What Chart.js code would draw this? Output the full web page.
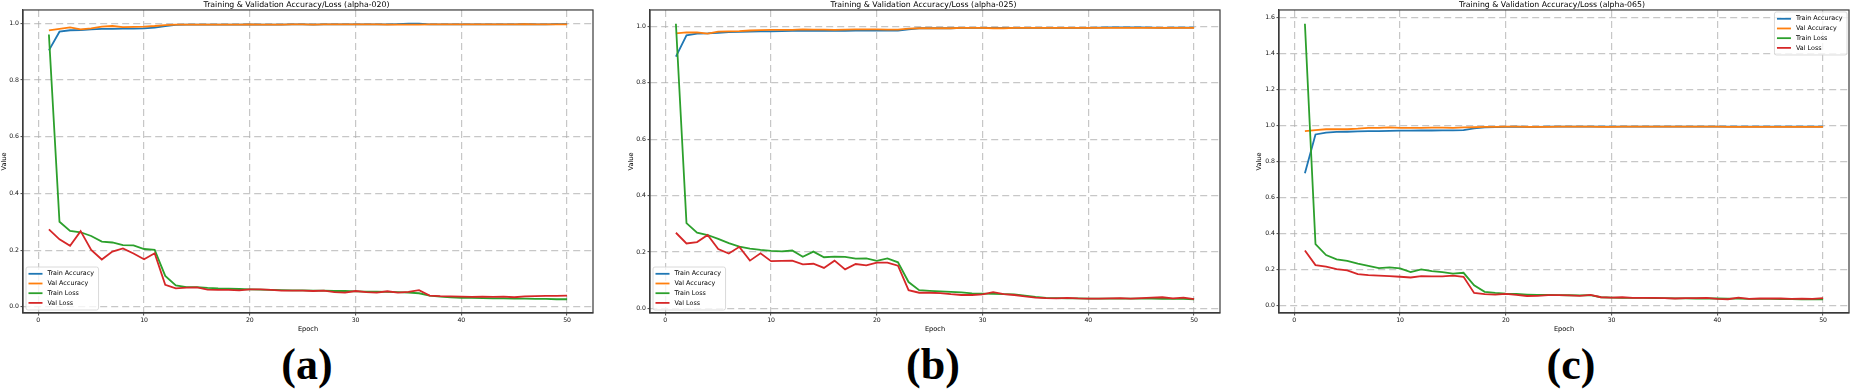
<!DOCTYPE html>
<html><head><meta charset="utf-8">
<script src="https://cdn.jsdelivr.net/npm/chart.js@4.4.1/dist/chart.umd.min.js"></script>
<style>
html,body{margin:0;padding:0;background:#fff;}
#wrap{position:relative;width:1850px;height:389px;background:#fff;overflow:hidden;}
.pc{position:absolute;top:0;}
.lab{position:absolute;top:339px;width:120px;margin-left:-60px;text-align:center;font-family:"Liberation Serif","Times New Roman",serif;font-weight:bold;font-size:44px;line-height:52px;color:#000;}
</style></head>
<body><div id="wrap"></div>
<script>
// ---------- data ----------
const epochs = [1,2,3,4,5,6,7,8,9,10,11,12,13,14,15,16,17,18,19,20,21,22,23,24,25,26,27,28,29,30,31,32,33,34,35,36,37,38,39,40,41,42,43,44,45,46,47,48,49,50];
const seriesNames = ['Train Accuracy','Val Accuracy','Train Loss','Val Loss'];
const panelTitles = ['Training & Validation Accuracy/Loss (alpha-020)','Training & Validation Accuracy/Loss (alpha-025)','Training & Validation Accuracy/Loss (alpha-065)'];
const panelLetters = ['(a)','(b)','(c)'];
const xTickValues = [0,10,20,30,40,50];
const yTickValuesAB = [0.0,0.2,0.4,0.6,0.8,1.0];
const yTickValuesC = [0.0,0.2,0.4,0.6,0.8,1.0,1.2,1.4,1.6];

const trainAccA = [0.904,0.970,0.975,0.976,0.978,0.980,0.980,0.981,0.981,0.982,0.984,0.990,0.994,0.995,0.995,0.995,0.995,0.995,0.995,0.996,0.995,0.995,0.995,0.996,0.996,0.995,0.996,0.996,0.996,0.996,0.996,0.996,0.996,0.997,0.998,0.998,0.996,0.996,0.996,0.996,0.996,0.996,0.996,0.996,0.996,0.997,0.996,0.996,0.997,0.997];
const valAccA   = [0.975,0.980,0.985,0.978,0.982,0.988,0.990,0.986,0.987,0.988,0.990,0.993,0.995,0.995,0.995,0.995,0.995,0.995,0.995,0.996,0.995,0.995,0.995,0.996,0.996,0.995,0.996,0.996,0.996,0.996,0.996,0.996,0.995,0.995,0.995,0.995,0.996,0.996,0.996,0.996,0.996,0.996,0.996,0.996,0.996,0.997,0.996,0.996,0.996,0.996];
const trainLossA= [0.960,0.300,0.268,0.263,0.250,0.230,0.227,0.218,0.217,0.204,0.201,0.109,0.076,0.070,0.070,0.067,0.065,0.064,0.063,0.062,0.061,0.060,0.059,0.058,0.058,0.057,0.057,0.056,0.056,0.055,0.054,0.054,0.053,0.052,0.050,0.048,0.040,0.036,0.034,0.032,0.032,0.031,0.030,0.030,0.029,0.029,0.028,0.028,0.027,0.027];
const valLossA  = [0.273,0.238,0.215,0.267,0.201,0.167,0.195,0.206,0.188,0.168,0.189,0.078,0.065,0.068,0.069,0.061,0.060,0.060,0.058,0.062,0.062,0.060,0.057,0.057,0.057,0.056,0.057,0.052,0.050,0.056,0.052,0.050,0.055,0.050,0.053,0.059,0.040,0.038,0.037,0.036,0.035,0.036,0.035,0.036,0.034,0.037,0.038,0.039,0.039,0.040];

const trainAccB = [0.893,0.969,0.975,0.976,0.978,0.980,0.981,0.982,0.983,0.983,0.984,0.985,0.985,0.985,0.985,0.985,0.985,0.986,0.986,0.986,0.986,0.986,0.990,0.994,0.994,0.994,0.994,0.995,0.995,0.995,0.995,0.995,0.995,0.995,0.995,0.995,0.995,0.995,0.995,0.995,0.996,0.997,0.997,0.997,0.997,0.996,0.995,0.996,0.996,0.996];
const valAccB   = [0.976,0.979,0.979,0.975,0.982,0.983,0.984,0.986,0.987,0.988,0.988,0.988,0.990,0.989,0.989,0.988,0.989,0.990,0.990,0.990,0.989,0.989,0.993,0.994,0.994,0.994,0.994,0.995,0.995,0.995,0.994,0.994,0.995,0.995,0.995,0.995,0.995,0.995,0.995,0.995,0.995,0.995,0.995,0.995,0.995,0.995,0.995,0.995,0.995,0.995];
const trainLossB= [1.010,0.302,0.268,0.260,0.246,0.231,0.219,0.212,0.207,0.204,0.202,0.205,0.183,0.201,0.181,0.183,0.182,0.176,0.177,0.168,0.177,0.163,0.093,0.064,0.062,0.060,0.058,0.056,0.053,0.052,0.051,0.050,0.049,0.045,0.040,0.037,0.036,0.035,0.035,0.034,0.034,0.034,0.034,0.034,0.034,0.034,0.033,0.033,0.033,0.032];
const valLossB  = [0.268,0.230,0.235,0.260,0.210,0.194,0.218,0.169,0.195,0.167,0.168,0.169,0.156,0.158,0.143,0.169,0.138,0.157,0.152,0.162,0.162,0.151,0.064,0.055,0.055,0.054,0.050,0.047,0.047,0.049,0.057,0.050,0.047,0.042,0.038,0.036,0.035,0.037,0.035,0.034,0.034,0.035,0.036,0.034,0.036,0.038,0.039,0.035,0.038,0.032];

const trainAccC = [0.735,0.951,0.961,0.965,0.966,0.968,0.969,0.970,0.971,0.972,0.972,0.973,0.973,0.974,0.974,0.975,0.985,0.990,0.992,0.993,0.994,0.993,0.993,0.994,0.994,0.994,0.994,0.994,0.994,0.994,0.994,0.994,0.994,0.994,0.994,0.994,0.995,0.995,0.995,0.995,0.994,0.994,0.994,0.994,0.994,0.994,0.994,0.994,0.994,0.994];
const valAccC   = [0.970,0.975,0.980,0.980,0.980,0.983,0.988,0.988,0.990,0.988,0.988,0.988,0.989,0.989,0.988,0.990,0.991,0.993,0.993,0.994,0.994,0.993,0.993,0.993,0.994,0.994,0.994,0.994,0.993,0.993,0.994,0.994,0.994,0.994,0.994,0.994,0.994,0.994,0.994,0.994,0.993,0.993,0.993,0.993,0.993,0.993,0.993,0.993,0.993,0.993];
const trainLossC= [1.567,0.340,0.280,0.256,0.247,0.232,0.220,0.207,0.211,0.206,0.185,0.200,0.190,0.185,0.176,0.181,0.112,0.075,0.069,0.065,0.063,0.060,0.058,0.058,0.057,0.056,0.055,0.057,0.045,0.043,0.042,0.042,0.041,0.040,0.040,0.039,0.039,0.038,0.038,0.038,0.037,0.037,0.036,0.036,0.036,0.035,0.035,0.034,0.034,0.034];
const valLossC  = [0.305,0.224,0.215,0.202,0.194,0.174,0.168,0.165,0.163,0.159,0.155,0.163,0.161,0.161,0.165,0.159,0.069,0.062,0.060,0.064,0.058,0.052,0.053,0.057,0.057,0.055,0.053,0.058,0.045,0.043,0.045,0.042,0.042,0.042,0.040,0.038,0.040,0.040,0.042,0.036,0.034,0.043,0.036,0.038,0.038,0.038,0.036,0.037,0.036,0.040];

// ---------- styles / layout ----------
const seriesColors = ['#1f77b4','#ff7f0e','#2ca02c','#d62728'];
const FONT = '"DejaVu Sans", sans-serif';
const PLOT_TOP = 10, PLOT_BOTTOM = 313, CANVAS_H = 333;
const panels = [
  {cl:0,    pl:23,   pr:593,  series:[trainAccA,valAccA,trainLossA,valLossA], yt:yTickValuesAB, corner:'ll', labX:307},
  {cl:627,  pl:650,  pr:1220, series:[trainAccB,valAccB,trainLossB,valLossB], yt:yTickValuesAB, corner:'ll', labX:933},
  {cl:1255, pl:1279, pr:1849, series:[trainAccC,valAccC,trainLossC,valLossC], yt:yTickValuesC,  corner:'ur', labX:1571}
];

const framePlugin = {
  id:'frameLegend',
  afterDatasetsDraw(chart, args, opts){
    const ctx = chart.ctx, a = chart.chartArea;
    ctx.save();
    ctx.setLineDash([]);
    ctx.strokeStyle = '#3a3a3a'; ctx.lineWidth = 1.2;
    ctx.strokeRect(a.left, a.top, a.right-a.left, a.bottom-a.top);
    // legend
    ctx.font = '6.4px ' + FONT;
    const ds = chart.data.datasets;
    const tw = Math.max(...ds.map(d=>ctx.measureText(d.label).width));
    const w = 22 + tw + 4, h = 43;
    let x, y;
    if (opts.corner === 'll') { x = a.left + 3; y = a.bottom - 3 - h; }
    else { x = a.right - 2 - w; y = a.top + 2; }
    ctx.beginPath();
    if (ctx.roundRect) ctx.roundRect(x, y, w, h, 2); else ctx.rect(x, y, w, h);
    ctx.fillStyle = 'rgba(255,255,255,0.8)'; ctx.fill();
    ctx.strokeStyle = '#d0d0d0'; ctx.lineWidth = 0.8; ctx.stroke();
    ds.forEach((d, i) => {
      const ry = y + 6.8 + i*9.7;
      ctx.strokeStyle = d.borderColor; ctx.lineWidth = 1.8;
      ctx.beginPath(); ctx.moveTo(x+2.5, ry); ctx.lineTo(x+16.5, ry); ctx.stroke();
      ctx.fillStyle = '#000'; ctx.textBaseline = 'middle'; ctx.textAlign = 'left';
      ctx.fillText(d.label, x+21.5, ry);
    });
    ctx.restore();
  }
};

const wrap = document.getElementById('wrap');
panels.forEach((p, k) => {
  const cw = p.pr + 1 - p.cl;
  const div = document.createElement('div');
  div.className = 'pc';
  div.style.left = p.cl + 'px';
  div.style.width = cw + 'px'; div.style.height = CANVAS_H + 'px';
  const cv = document.createElement('canvas');
  cv.width = cw; cv.height = CANVAS_H;
  cv.style.width = cw + 'px'; cv.style.height = CANVAS_H + 'px';
  div.appendChild(cv); wrap.appendChild(div);

  const lab = document.createElement('div');
  lab.className = 'lab'; lab.style.left = p.labX + 'px';
  lab.textContent = panelLetters[k];
  wrap.appendChild(lab);

  const all = p.series.flat();
  const mn = Math.min(...all), mx = Math.max(...all), span = mx - mn;
  const xmin = epochs[0] - 0.05*(epochs[epochs.length-1]-epochs[0]);
  const xmax = epochs[epochs.length-1] + 0.05*(epochs[epochs.length-1]-epochs[0]);

  const grid = {color:'rgba(175,175,175,0.7)', lineWidth:1.2, tickColor:'#333', tickLength:2.5, tickWidth:0.9, tickBorderDash:[]};
  const border = {display:true, color:'#3a3a3a', width:1.2, dash:[7,4]};

  new Chart(cv, {
    type:'line',
    data:{
      datasets: seriesNames.map((n, i) => ({
        label:n,
        data: epochs.map((e, j) => ({x:e, y:p.series[i][j]})),
        borderColor: seriesColors[i], backgroundColor: seriesColors[i],
        borderWidth:1.8, pointRadius:0, tension:0, fill:false,
        order: seriesNames.length - i
      }))
    },
    options:{
      responsive:false, animation:false, devicePixelRatio:1,
      layout:{padding:{left:0, right:1, top:0, bottom:0}},
      plugins:{
        legend:{display:false}, tooltip:{enabled:false},
        title:{display:true, text:panelTitles[k], color:'#000', font:{family:FONT, size:7.8, weight:'normal', lineHeight:1.15}, padding:{top:0, bottom:1}},
        frameLegend:{corner:p.corner}
      },
      scales:{
        x:{type:'linear', min:xmin, max:xmax,
           afterBuildTicks:s => { s.ticks = xTickValues.map(v => ({value:v})); },
           afterFit:s => { s.height = CANVAS_H - PLOT_BOTTOM; },
           ticks:{color:'#111', font:{family:FONT, size:6.2}, padding:1, maxRotation:0, autoSkip:false, callback:v => String(v)},
           grid:grid, border:border,
           title:{display:true, text:'Epoch', color:'#000', font:{family:FONT, size:6.6, lineHeight:1.2}, padding:0}
        },
        y:{type:'linear', min:mn - 0.05*span, max:mx + 0.05*span,
           afterBuildTicks:s => { s.ticks = p.yt.map(v => ({value:v})); },
           afterFit:s => { s.width = p.pl - p.cl; },
           ticks:{color:'#111', font:{family:FONT, size:6.2}, padding:1.5, autoSkip:false, callback:v => Number(v).toFixed(1)},
           grid:grid, border:border,
           title:{display:true, text:'Value', color:'#000', font:{family:FONT, size:6.6, lineHeight:1.2}, padding:0}
        }
      }
    },
    plugins:[framePlugin]
  });
});
</script></body></html>
